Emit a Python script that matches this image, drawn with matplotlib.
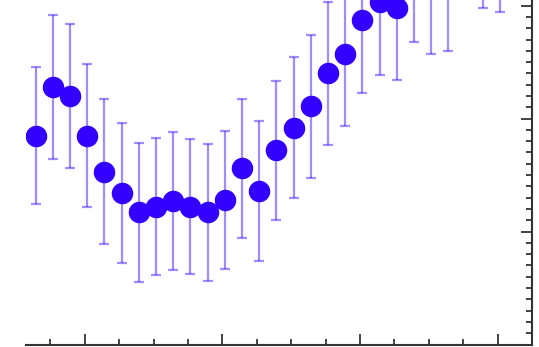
import matplotlib
matplotlib.use('Agg')
import matplotlib.pyplot as plt
import numpy as np

# values (y in units of one major tick)
y_values = [1.85, 2.28, 2.20, 1.85, 1.53, 1.34, 1.17, 1.22, 1.27, 1.22,
            1.17, 1.28, 1.56, 1.36, 1.72, 1.92, 2.11, 2.40, 2.57, 2.87,
            3.03, 2.98, 3.32, 3.21, 3.24, 3.75, 3.62, 3.58, 3.74]
y_errors = [0.61, 0.635, 0.64, 0.63, 0.64, 0.62, 0.615, 0.606, 0.608, 0.60,
            0.608, 0.612, 0.613, 0.621, 0.615, 0.622, 0.634, 0.63, 0.637, 0.643,
            0.64, 0.634, 0.64, 0.64, 0.64, 0.64, 0.64, 0.64, 0.64]
x_major = [2.86, 10.86, 18.86, 26.86]
x_minor = [0.86, 4.86, 6.86, 8.86, 12.86, 14.86, 16.86, 20.86, 22.86, 24.86, 28.86]

x = np.arange(len(y_values))

fig = plt.figure(figsize=(5.39, 3.47), dpi=100)
ax = fig.add_axes([26 / 539, 2.5 / 347, 506 / 539, 344.5 / 347])

ax.errorbar(x, y_values, yerr=y_errors, fmt='none', ecolor='#3300ff',
            elinewidth=1.6, capsize=3.3, capthick=1.6, alpha=0.45)
ax.plot(x, y_values, 'o', color='#3300ff', markersize=15.5, markeredgewidth=0)

ax.set_xlim(-0.56, 28.77)
ax.set_ylim(0, 3.05)

ax.set_xticks(x_major)
ax.set_xticks(x_minor, minor=True)
ax.yaxis.set_major_locator(matplotlib.ticker.MultipleLocator(1))
ax.yaxis.set_minor_locator(matplotlib.ticker.MultipleLocator(0.1))

ax.spines['top'].set_visible(False)
ax.spines['left'].set_visible(False)
for side in ['bottom', 'right']:
    ax.spines[side].set_linewidth(1.5)
    ax.spines[side].set_color('#333333')

ax.tick_params(which='both', direction='in', left=False, right=True, bottom=True, top=False,
               labelleft=False, labelbottom=False, color='#222222')
ax.tick_params(which='major', length=8, width=1.2)
ax.tick_params(which='minor', length=4, width=1.2)

fig.savefig('out.png', dpi=100)
